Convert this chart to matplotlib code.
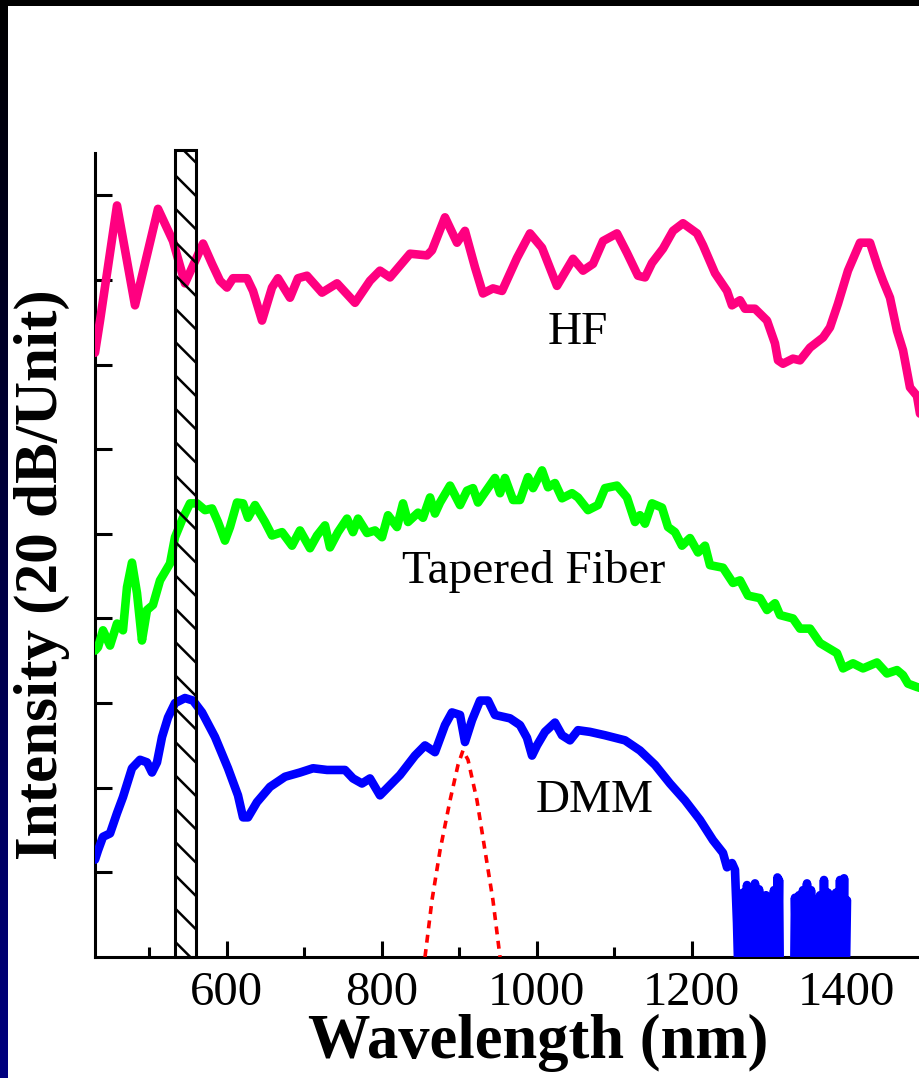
import numpy as np
import matplotlib
matplotlib.use("Agg")
import matplotlib.pyplot as plt
from matplotlib.patches import Rectangle
from matplotlib.ticker import FixedLocator, MultipleLocator

# ---------------- data ----------------
hf_x = [430, 436.5, 458.4, 481.6, 511.3, 530.6, 546.1, 569.4, 581.0, 591.3, 600.3, 608.1,
        626.1, 633.9, 645.5, 658.4, 666.1, 681.6, 691.9, 703.5, 722.9, 742.3, 765.5, 784.8,
        797.7, 810.6, 836.5, 858.4, 864.8, 881.6, 897.1, 907.4, 920.3, 930.6, 943.5, 955.2,
        974.5, 991.3, 1006.8, 1026.1, 1046.8, 1059.7, 1072.6, 1085.5, 1103.5, 1116.4, 1130.6,
        1139.7, 1148.7, 1162.9, 1175.8, 1188.7, 1206.8, 1214.5, 1230.0, 1245.5, 1251.9,
        1262.3, 1268.7, 1281.6, 1297.1, 1307.4, 1311.3, 1317.7, 1330.6, 1339.7, 1352.6,
        1369.4, 1378.4, 1388.7, 1401.6, 1417.1, 1430.0, 1440.3, 1446.8, 1455.8, 1464.8,
        1472.6, 1481.6, 1490.6, 1494.5]
hf_y = [7.14, 7.52, 8.88, 7.70, 8.84, 8.46, 7.96, 8.43, 8.19, 7.99, 7.91, 8.02,
        8.02, 7.87, 7.52, 7.91, 8.02, 7.79, 8.02, 8.05, 7.85, 7.96, 7.73, 7.99,
        8.11, 8.03, 8.31, 8.29, 8.35, 8.74, 8.44, 8.58, 8.15, 7.84, 7.90, 7.87,
        8.26, 8.55, 8.38, 7.93, 8.25, 8.11, 8.19, 8.46, 8.55, 8.32, 8.05,
        8.03, 8.20, 8.37, 8.58, 8.67, 8.55, 8.41, 8.08, 7.87, 7.70,
        7.76, 7.66, 7.66, 7.52, 7.25, 7.05, 7.01, 7.07, 7.05, 7.20,
        7.32, 7.44, 7.72, 8.11, 8.44, 8.44, 8.15, 7.99, 7.79, 7.40,
        7.17, 6.73, 6.63, 6.42]

tf_x = [430, 433.9, 440.3, 449.4, 458.4, 466.1, 471.3, 477.7, 484.2, 490.6, 497.1, 504.8,
        513.9, 526.8, 533.2, 543.5, 552.6, 561.6, 571.9, 581.0, 588.7, 597.7, 604.2, 613.2,
        621.0, 627.4, 636.5, 649.4, 658.4, 671.3, 684.2, 694.5, 707.4, 716.5, 726.8, 733.2,
        743.5, 755.2, 762.9, 769.4, 781.0, 791.3, 800.3, 808.1, 819.7, 827.4, 833.9, 846.8,
        853.2, 862.3, 868.7, 875.2, 888.1, 901.0, 910.0, 917.7, 924.2, 933.2, 946.1, 952.6,
        959.0, 969.4, 978.4, 988.7, 995.2, 1006.8, 1014.5, 1023.5, 1032.6, 1045.5, 1053.2,
        1066.1, 1079.0, 1088.1, 1103.5, 1116.4, 1126.8, 1133.2, 1139.7, 1148.7, 1161.6,
        1169.4, 1178.4, 1187.4, 1197.7, 1208.1, 1217.1, 1223.5, 1240.3, 1253.2, 1262.3,
        1272.6, 1288.1, 1297.1, 1307.4, 1313.9, 1330.6, 1339.7, 1352.6, 1365.5, 1387.4,
        1395.2, 1408.1, 1421.0, 1439.0, 1451.9, 1464.8, 1472.6, 1479.0, 1490.6, 1494.5]
tf_y = [3.62, 3.66, 3.86, 3.68, 3.94, 3.86, 4.37, 4.66, 4.30, 3.74, 4.10, 4.16,
        4.45, 4.65, 4.96, 5.19, 5.36, 5.36, 5.28, 5.30, 5.14, 4.92, 5.08, 5.37,
        5.36, 5.19, 5.34, 5.14, 4.98, 5.02, 4.86, 5.04, 4.83, 4.98, 5.10, 4.84,
        5.02, 5.18, 5.02, 5.18, 5.01, 5.04, 4.96, 5.22, 5.08, 5.36, 5.14, 5.25,
        5.19, 5.43, 5.24, 5.37, 5.57, 5.34, 5.51, 5.54, 5.37, 5.49, 5.66, 5.48,
        5.66, 5.40, 5.40, 5.67, 5.54, 5.75, 5.55, 5.60, 5.42, 5.48, 5.43,
        5.28, 5.34, 5.54, 5.57, 5.43, 5.14, 5.22, 5.12, 5.36, 5.31,
        5.08, 5.02, 4.86, 4.95, 4.78, 4.86, 4.63, 4.60, 4.42, 4.45,
        4.27, 4.24, 4.10, 4.18, 4.04, 4.00, 3.88, 3.88, 3.71, 3.59,
        3.41, 3.47, 3.41, 3.48, 3.35, 3.39, 3.33, 3.23, 3.19, 3.18]

dmm_x = [430, 433.9, 440.3, 449.4, 458.4, 466.1, 477.7, 488.1, 497.1, 503.5, 510.0, 516.5,
         524.2, 533.2, 546.1, 556.5, 568.1, 584.8, 601.6, 614.5, 621.0, 627.4, 639.0, 655.8,
         675.2, 694.5, 711.3, 729.4, 752.6, 762.9, 774.5, 784.8, 797.7, 810.6, 823.5, 842.9,
         855.8, 868.7, 881.6, 890.6, 901.0, 907.4, 916.5, 926.8, 937.1, 946.1, 965.5, 978.4,
         987.4, 993.9, 1000.3, 1010.6, 1023.5, 1032.6, 1042.9, 1053.2, 1068.7, 1088.1,
         1113.9, 1133.2, 1152.6, 1171.9, 1191.3, 1210.6, 1227.4, 1240.3, 1245.5, 1251.9,
         1255.8, 1258.4,
         # noisy tail
         1261.0, 1266.1, 1268.7, 1271.3, 1273.9, 1276.5, 1279.0, 1281.6, 1284.2, 1286.8,
         1289.4, 1291.3, 1293.2, 1295.8, 1298.4, 1301.0, 1303.5, 1306.1, 1308.7, 1310.6,
         1311.6, 1312.6, 1313.9, 1331.9, 1333.2, 1335.8, 1338.4, 1340.9, 1343.5, 1346.1,
         1348.7, 1351.3, 1353.9, 1356.5, 1360.3, 1362.9, 1365.5, 1368.1, 1370.6, 1373.2,
         1375.8, 1378.4, 1381.0, 1383.5, 1386.1, 1388.7, 1391.3, 1393.9, 1396.5, 1398.4,
         1400.3]
dmm_y = [1.15, 1.26, 1.42, 1.46, 1.70, 1.89, 2.23, 2.33, 2.30, 2.18, 2.30, 2.60,
         2.83, 3.00, 3.06, 3.03, 2.89, 2.60, 2.23, 1.91, 1.65, 1.65, 1.83, 2.01,
         2.13, 2.18, 2.23, 2.21, 2.21, 2.11, 2.05, 2.11, 1.91, 2.03, 2.15, 2.38,
         2.50, 2.42, 2.74, 2.89, 2.86, 2.54, 2.80, 3.03, 3.03, 2.86, 2.82, 2.74,
         2.59, 2.38, 2.50, 2.66, 2.77, 2.62, 2.56, 2.68, 2.66, 2.62,
         2.56, 2.44, 2.27, 2.05, 1.85, 1.62, 1.38, 1.23, 1.06, 1.11,
         1.03, 0.40,
         -0.5, 0.76, -0.5, 0.85, -0.5, 0.79, -0.5, 0.87, -0.5, 0.80,
         -0.5, 0.59, -0.5, 0.73, -0.5, 0.67, -0.5, 0.79, -0.5, 0.94,
         0.3, 0.91, -0.5, -0.5, 0.70, -0.5, 0.73, -0.5, 0.79, -0.5,
         0.87, -0.5, 0.79, -0.5, 0.67, -0.5, 0.73, -0.5, 0.91, -0.5,
         0.76, -0.5, 0.46, -0.5, 0.76, -0.5, 0.91, -0.5, 0.93, -0.5,
         0.67]

laser_x = [855.8, 864.8, 875.2, 888.1, 898.4, 904.8, 911.3, 922.9, 933.2, 943.5, 952.6]
laser_y = [0.0, 0.67, 1.26, 1.85, 2.27, 2.44, 2.33, 1.85, 1.26, 0.67, 0.0]

band_lo, band_hi = 533, 560
curve_labels = ["HF", "Tapered Fiber", "DMM"]
label_pos = [(1053, 7.38), (996, 4.55), (1075, 1.85)]
x_major = [600, 800, 1000, 1200, 1400]
x_tick_labels = ["600", "800", "1000", "1200", "1400"]
y_ticks = [1, 2, 3, 4, 5, 6, 7, 8, 9]

# ---------------- figure ----------------
plt.rcParams['font.family'] = ['Liberation Serif', 'DejaVu Serif']
plt.rcParams['hatch.linewidth'] = 1.8

W, H = 920, 1078
fig = plt.figure(figsize=(W / 100, H / 100), dpi=100)
fig.patch.set_facecolor('white')

x0, x1 = 430, 1500
ax_left = 95 / W
ax_bottom = (H - 957) / H
ax_height = (957 - 153) / H
ax_width = (x1 - x0) * 0.775 / W
ax = fig.add_axes([ax_left, ax_bottom, ax_width, ax_height])
ax.set_xlim(x0, x1)
ax.set_ylim(0, 9.5)

lw = 6.2
common = dict(solid_joinstyle='round', solid_capstyle='round', zorder=3)
ax.plot(hf_x, hf_y, color='#FF0080', lw=lw, **common)
ax.plot(tf_x, tf_y, color='#00FF00', lw=lw, **common)
ax.plot(dmm_x, dmm_y, color='#0000FF', lw=lw, **common)
ax.plot(laser_x, laser_y, color='#FF0000', lw=2.6, dashes=(2.2, 1.8), zorder=4)

ax.add_patch(Rectangle((band_lo, 0), band_hi - band_lo, 9.535, fill=False,
                       hatch='\\', edgecolor='black', lw=2.2, zorder=5,
                       clip_on=False))

for txt, (tx, ty) in zip(curve_labels, label_pos):
    ax.text(tx, ty, txt, fontsize=34, ha='center', va='center', color='black')

for s in ['top', 'right']:
    ax.spines[s].set_visible(False)
for s in ['left', 'bottom']:
    ax.spines[s].set_linewidth(2.2)

ax.xaxis.set_major_locator(FixedLocator(x_major))
ax.set_xticklabels(x_tick_labels)
ax.xaxis.set_minor_locator(MultipleLocator(100))
ax.yaxis.set_major_locator(FixedLocator(y_ticks))
ax.set_yticklabels([])
ax.tick_params(axis='x', which='major', direction='in', length=11.5, width=2.2,
               labelsize=35, pad=10)
ax.tick_params(axis='x', which='minor', direction='in', length=7, width=2.2)
ax.tick_params(axis='y', which='major', direction='in', length=12, width=2.2,
               left=True, labelleft=False)

fig.text(538 / W, (H - 1058) / H, "Wavelength (nm)", fontsize=45, fontweight='bold',
         ha='center', va='baseline')
fig.text(42 / W, (H - 575) / H, "Intensity (20 dB/Unit)", fontsize=44, fontweight='bold',
         ha='center', va='center', rotation=90)

# frame: black top band and black-to-navy left band
fig.patches.append(Rectangle((0, 1 - 6 / H), 1, 6 / H, transform=fig.transFigure,
                             facecolor='black', edgecolor='none', zorder=10))
gax = fig.add_axes([0, 0, 8 / W, 1])
grad = np.zeros((256, 1, 3))
grad[:, 0, 2] = np.linspace(0, 0.5, 256)
gax.imshow(grad, aspect='auto', extent=(0, 1, 0, 1), origin='upper')
gax.set_axis_off()

fig.savefig('out.png', dpi=100, facecolor='white')
